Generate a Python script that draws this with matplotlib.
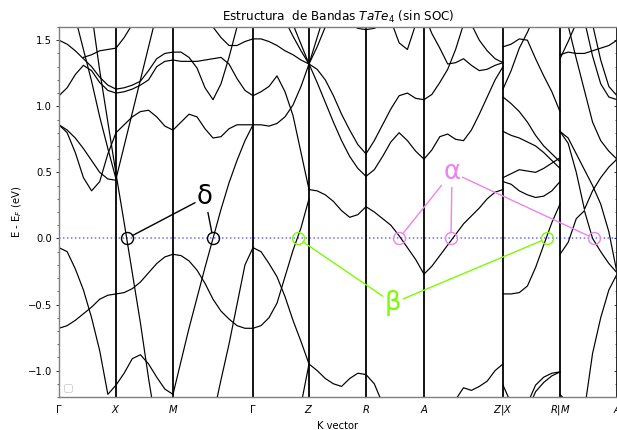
import numpy as np
import matplotlib.pyplot as plt

nan = np.nan

# high symmetry points along the path
kpath = [0.0, 0.57, 1.14, 1.94, 2.50, 3.07, 3.65, 4.44, 5.01, 5.58]
klabels = [r'$\Gamma$', '$X$', '$M$', r'$\Gamma$', '$Z$', '$R$', '$A$',
           '$Z|X$', '$R|M$', '$A$']

# bands, energies (eV) sampled evenly along each segment
bands_GX = [
    [1.50, 1.47, 1.42, 1.36, 1.30, 1.22, 1.16, 1.13],
    [1.08, 1.14, 1.24, 1.31, 1.27, 1.18, 1.12, 1.10],
    [nan, nan, nan, 1.37, 1.39, 1.42, 1.43, 1.44],
    [2.15, 1.91, 1.67, 1.43, 1.19, 0.92, 0.68, 0.45],
    [nan, nan, nan, nan, 1.71, 1.27, 0.88, 0.49],
    [0.86, 0.82, 0.76, 0.68, 0.59, 0.50, 0.45, 0.44],
    [0.86, 0.80, 0.65, 0.46, 0.36, 0.43, 0.64, 0.80],
    [-0.07, -0.10, -0.23, -0.39, -0.60, -0.85, -1.18, -1.11],
    [-0.68, -0.66, -0.62, -0.57, -0.52, -0.46, -0.43, -0.42],
]
bands_XM = [
    [1.44, 1.52, 1.62, 1.72, nan, nan, nan, nan],
    [1.13, 1.14, 1.16, 1.19, 1.27, 1.36, 1.40, 1.41],
    [1.10, 1.11, 1.13, 1.16, 1.20, 1.30, 1.34, 1.35],
    [0.49, 0.12, -0.26, -0.64, -1.06, -1.44, nan, nan],
    [0.80, 0.86, 0.92, 0.96, 0.97, 0.92, 0.85, 0.82],
    [0.45, 0.70, 0.95, 1.20, 1.45, 1.70, nan, nan],
    [-0.42, -0.41, -0.38, -0.33, -0.26, -0.19, -0.14, -0.12],
    [-1.11, -1.02, -0.91, -0.88, -0.95, -1.05, -1.14, -1.18],
]
bands_MG = [
    [1.41, 1.41, 1.37, 1.29, 1.14, 1.05, 1.17, 1.37, 1.60, 1.85, nan],
    [1.35, 1.34, 1.34, 1.34, 1.35, 1.36, 1.37, 1.32, 1.21, 1.12, 1.08],
    [nan, nan, nan, nan, 1.80, 1.60, 1.52, 1.46, 1.46, 1.49, 1.51],
    [0.82, 0.88, 0.94, 0.92, 0.83, 0.76, 0.77, 0.83, 0.86, 0.86, 0.86],
    [-1.18, -0.93, -0.68, -0.45, -0.22, 0.00, 0.22, 0.42, 0.59, 0.74, 0.86],
    [-0.12, -0.13, -0.17, -0.24, -0.34, -0.46, -0.55, -0.61, -0.66, -0.68, -0.68],
    [nan, nan, nan, nan, nan, -1.35, -1.07, -0.80, -0.50, -0.20, -0.07],
]
bands_GZ = [
    [1.51, 1.51, 1.49, 1.46, 1.42, 1.39, 1.35, 1.32],
    [0.86, 0.86, 0.85, 0.87, 0.92, 1.01, 1.15, 1.32],
    [1.08, 1.11, 1.15, 1.23, 1.11, 0.93, 0.65, 0.37],
    [nan, nan, nan, nan, 1.65, 1.53, 1.42, 1.32],
    [nan, nan, nan, nan, nan, 1.62, 1.47, 1.32],
    [-0.68, -0.66, -0.60, -0.49, -0.29, -0.09, 0.08, 0.30],
    [-0.07, -0.10, -0.19, -0.29, -0.44, -0.62, -0.78, -0.95],
    [nan, nan, nan, nan, nan, -1.50, -1.26, -0.95],
]
bands_ZR = [
    [1.32, 1.45, 1.60, 1.75, nan, nan, nan, nan],
    [1.32, 1.52, 1.72, nan, nan, nan, nan, nan],
    [1.32, 1.28, 1.20, 1.08, 0.94, 0.82, 0.71, 0.64],
    [1.32, 1.18, 1.03, 0.88, 0.74, 0.62, 0.53, 0.47],
    [0.37, 0.36, 0.33, 0.28, 0.21, 0.16, 0.18, 0.24],
    [-0.95, -1.00, -1.06, -1.10, -1.12, -1.06, -1.02, -1.03],
    [nan, nan, nan, nan, nan, 1.62, 1.59, 1.58],
]
bands_RA = [
    [0.64, 0.74, 0.86, 0.98, 1.08, 1.10, 1.06, 1.05],
    [0.47, 0.52, 0.62, 0.73, 0.80, 0.74, 0.66, 0.60],
    [0.24, 0.20, 0.15, 0.10, 0.02, -0.07, -0.16, -0.27],
    [1.58, 1.59, 1.62, nan, nan, nan, nan, nan],
    [nan, nan, nan, 1.65, 1.48, 1.43, 1.62, nan],
    [-1.03, -1.10, -1.25, nan, nan, nan, nan, nan],
]
bands_AZ = [
    [1.05, 1.09, 1.18, 1.28, 1.43, 1.62, nan, nan, nan, nan, nan],
    [1.70, 1.55, 1.44, 1.32, 1.33, 1.36, 1.31, 1.27, 1.28, 1.31, 1.33],
    [0.60, 0.67, 0.77, 0.79, 0.75, 0.74, 0.82, 0.94, 1.07, 1.20, 1.30],
    [-0.27, -0.21, -0.13, -0.05, 0.03, 0.11, 0.17, 0.23, 0.30, 0.35, 0.37],
    [nan, nan, nan, nan, -1.22, -1.13, -1.15, -1.12, -1.08, -1.00, -0.95],
    [nan, nan, nan, nan, nan, nan, 1.62, 1.50, 1.42, 1.36, 1.33],
]
bands_XR = [
    [1.45, 1.47, 1.51, 1.50, 1.36, 1.23, 1.11, 0.96],
    [1.13, 1.27, 1.44, 1.56, 1.70, nan, nan, nan],
    [1.07, 1.02, 0.96, 0.88, 0.78, 0.70, 0.64, 0.58],
    [0.81, 0.78, 0.76, 0.73, 0.70, 0.65, 0.59, 0.53],
    [0.46, 0.49, 0.52, 0.51, 0.50, 0.53, 0.57, 0.61],
    [0.43, 0.41, 0.36, 0.33, 0.31, 0.32, 0.36, 0.43],
    [-0.42, -0.42, -0.41, -0.36, -0.22, -0.05, 0.12, 0.26],
    [nan, nan, nan, -1.30, -1.16, -1.09, -1.04, -1.01],
    [nan, nan, nan, -1.25, -1.11, -1.05, -1.02, -1.01],
    [-1.11, -1.25, nan, nan, nan, nan, nan, nan],
]
bands_MA = [
    [1.39, 1.41, 1.40, 1.40, 1.42, 1.44, 1.46, 1.50],
    [1.36, 1.49, 1.63, nan, nan, nan, nan, nan],
    [nan, 1.61, 1.36, 1.12, 0.88, 0.74, 0.66, 0.60],
    [nan, nan, nan, 1.65, 1.38, 1.17, 1.07, 1.05],
    [nan, nan, nan, nan, 1.62, 1.35, 1.15, 1.08],
    [0.81, 0.76, 0.64, 0.52, 0.40, 0.26, 0.05, -0.26],
    [0.81, 0.72, 0.50, 0.22, 0.36, 0.46, 0.54, 0.60],
    [-0.12, -0.03, 0.15, 0.21, 0.00, -0.10, -0.19, -0.26],
    [nan, nan, nan, -1.30, -0.87, -0.60, -0.39, -0.27],
    [-1.18, -1.25, nan, nan, nan, nan, nan, nan],
]

segments = [(0, 1, bands_GX), (1, 2, bands_XM), (2, 3, bands_MG),
            (3, 4, bands_GZ), (4, 5, bands_ZR), (5, 6, bands_RA),
            (6, 7, bands_AZ), (7, 8, bands_XR), (8, 9, bands_MA)]

# marked crossings at the Fermi level and label positions
delta_k = [0.68, 1.54]
alpha_k = [3.40, 3.92, 5.35]
beta_k = [2.39, 4.88]
delta_txt = (1.46, 0.31)
alpha_txt = (3.93, 0.50)
beta_txt = (3.34, -0.49)

pink = 'violet'
green = 'lawngreen'
yticks = [-1.0, -0.5, 0.0, 0.5, 1.0, 1.5]
yminor = np.arange(-1.2, 1.61, 0.1)

fig = plt.figure(figsize=(617 / 72, 430 / 72), dpi=72)
ax = fig.add_axes([59 / 617, 33 / 430, 558 / 617, 370 / 430])

for i0, i1, curves in segments:
    for e in curves:
        k = np.linspace(kpath[i0], kpath[i1], len(e))
        ax.plot(k, e, color='k', lw=1.2)

for kx in kpath:
    ax.axvline(kx, color='k', lw=1.8)
ax.axhline(0, color='b', ls=':', lw=1.5, alpha=0.6)

# circles
ax.plot(delta_k, [0] * len(delta_k), 'o', ms=12, mfc='none', mec='k', mew=1.4)
ax.plot(alpha_k, [0] * len(alpha_k), 'o', ms=12, mfc='none', mec=pink, mew=1.4)
ax.plot(beta_k, [0] * len(beta_k), 'o', ms=12, mfc='none', mec=green, mew=1.4)


def label(txt, pos, targets, color):
    for j, kx in enumerate(targets):
        ax.annotate(txt, xy=(kx, 0), xytext=pos, fontsize=26,
                    color=color if j == 0 else 'none',
                    ha='center', va='center',
                    arrowprops=dict(arrowstyle='-', color=color, lw=1.4,
                                    shrinkA=0, shrinkB=6))


label('δ', delta_txt, delta_k, 'k')
label('α', alpha_txt, alpha_k, pink)
label('β', beta_txt, beta_k, green)

ax.set_xlim(0, 5.58)
ax.set_ylim(-1.2, 1.6)
ax.set_xticks(kpath)
ax.set_xticklabels(klabels)
ax.tick_params(axis='x', length=0, pad=6)
ax.set_yticks(yticks)
ax.set_yticks(yminor, minor=True)
for sp in ax.spines.values():
    sp.set_color('0.5')
    sp.set_linewidth(1.4)

# ticks pointing inwards on the right side
sec = ax.secondary_yaxis('right')
sec.set_ticks(yticks)
sec.set_ticks(yminor, minor=True)
sec.tick_params(which='both', direction='in', labelright=False)
sec.spines['right'].set_color('0.5')

ax.set_xlabel('K vector')
ax.set_ylabel('E - E$_F$ (eV)')
ax.set_title('Estructura  de Bandas $TaTe_4$ (sin SOC)')
ax.legend(handles=[], loc='lower left')

fig.savefig('out.png', dpi=72)
